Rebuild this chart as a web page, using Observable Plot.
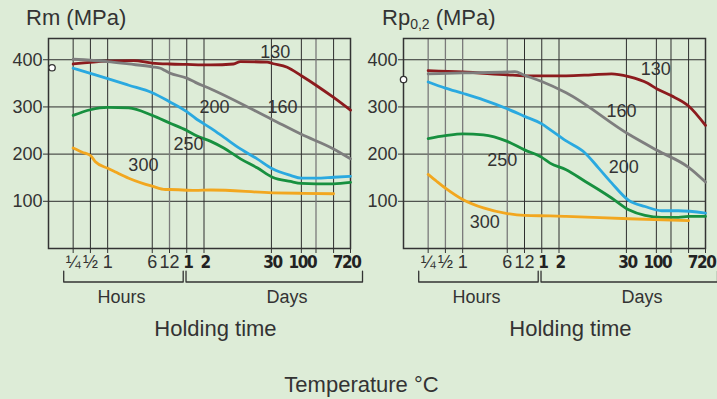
<!DOCTYPE html>
<html><head><meta charset="utf-8">
<script src="https://cdn.jsdelivr.net/npm/d3@7"></script>
<script src="https://cdn.jsdelivr.net/npm/@observablehq/plot@0.6"></script>
<style>
body{margin:0;background:#ddecd7;}
#wrap{position:relative;width:717px;height:399px;background:#ddecd7;font-family:"Liberation Sans",Arial,sans-serif;color:#333;overflow:hidden}
#wrap svg{position:absolute;top:0;}
#wrap g[font-weight="bold"] text{letter-spacing:-1.4px}
.ttl{position:absolute;top:5px;font-size:22px;line-height:26px;white-space:nowrap}
.ttl sub{font-size:14px;vertical-align:-4px;line-height:0}
#temp{position:absolute;left:3px;width:717px;top:372px;text-align:center;font-size:22px;line-height:26px}
</style></head><body>
<div id="wrap">
  <div class="ttl" style="left:26px">Rm (MPa)</div>
  <div class="ttl" style="left:382px">Rp<sub>0,2</sub> (MPa)</div>
  <div id="temp">Temperature °C</div>
</div>
<script>
// Temperatures (°C) of the curves
const temps = [130, 160, 200, 250, 300];
const lineColors = ["#8c1b1e", "#7e7e7e", "#2aa9e0", "#17903f", "#f2a71f"];

// x ticks, in hours
const hourTicks = [0.25, 0.5, 1, 6, 12];
const hourLabels = ["¼", "½", "1", "6", "12"];
const dayTicks = [24, 48, 720, 2400, 4320, 8760];
const dayLabels = ["1", "2", "30", "100", "", ""];
const lastTick = 17280;
const lastLabel = "720";
const yTicks = [100, 200, 300, 400];

// Rm panel: [hours, MPa]
const rm130 = [[0.25,391],[1,397],[2.82,398],[6,393],[12,391],[24,390],[63,389],[157,391],[208,396],[608,395],[750,392],[1360,384],[2400,366],[4320,346],[8760,320],[17280,293]];
const rm160 = [[0.25,401],[1,396],[2.33,391],[6,385],[8.35,382],[10,377],[12,372],[24,361],[34,352],[63,338],[750,273],[2400,242],[8760,211],[17280,190]];
const rm200 = [[0.25,382],[0.5,371],[1,360],[2.33,346],[6,330],[12,311],[24,290],[34,276],[63,255],[106,236],[208,211],[406,190],[750,169],[1552,155],[2400,149],[4320,149],[8760,151],[17280,153]];
const rm250 = [[0.25,282],[0.5,294],[1,299],[2.33,298],[6,282],[12,266],[24,250],[34,240],[63,227],[106,213],[208,190],[406,171],[750,151],[1552,142],[2400,138],[4320,137],[8760,137],[17280,140]];
const rm300 = [[0.25,213],[0.36,204],[0.5,197],[0.61,184],[1,170],[1.37,162],[2.33,149],[6,132],[10.2,125],[12,125],[34,123],[63,124],[750,118],[2400,117],[8760,116]];
const rmInitial = [0.107, 383];
const rmLabelPos = [[844,415],[1120,300],[73,299],[25.7,220],[4.2,176]];

// Rp0,2 panel: [hours, MPa]
const rp130 = [[0.25,377],[1,374],[6,368],[12,366],[24,366],[64,366],[176,368],[397,370],[790,364],[1700,350],[2470,338],[4320,324],[8760,302],[17280,261]];
const rp160 = [[0.25,370],[1,372],[6,374],[8.15,375],[12,367],[24,354],[64,330],[790,242],[2470,208],[8760,172],[17280,141]];
const rp200 = [[0.25,353],[0.5,340],[1,329],[2.3,315],[6,296],[12,280],[24,264],[33.5,252],[64,228],[138,202],[234,171],[397,139],[790,102],[1520,89],[2960,80],[5800,80],[17280,75]];
const rp250 = [[0.25,233],[0.5,239],[1,243],[2.3,241],[6,227],[12,209],[24,193],[33.5,181],[64,167],[138,142],[234,125],[397,107],[790,82],[1520,70],[2960,66],[5800,66],[8760,68],[17280,68]];
const rp300 = [[0.25,157],[0.355,142],[0.5,128],[1,104],[2.3,86],[6,74],[12,70],[33.5,69],[64,68],[790,63],[8760,59]];
const rpInitial = [0.093, 358];
const rpLabelPos = [[2350,380],[590,290],[650,173],[4.9,187],[2.44,55]];

// Annotations under the time axis
const hoursSpan = [0.171, 20.8];
const daysSpan = [23.3, 28000];
const groupLabels = ["Hours", "Days"];
const groupLabelPos = [[1.74, -103], [1353, -103]];
const xTitle = "Holding time";
const xTitlePos = [76, -170];
const bracketY = [-48, -71];

function panel(series, labelPos, initial, left, width, greyGrid) {
  const rows = series.flatMap((pts, i) => pts.map(([h, v]) => ({h, v, t: temps[i]})));
  const labs = labelPos.map(([h, v], i) => ({h, v, t: temps[i]}));
  const allTicks = hourTicks.concat(dayTicks, [lastTick]);
  const blackGrid = hourTicks.concat(dayTicks).filter(d => !greyGrid.includes(d));
  const bracket = (span) => [[span[0], bracketY[0]], [span[0], bracketY[1]], [span[1], bracketY[1]], [span[1], bracketY[0]]];
  const boldFont = "DejaVu Sans Condensed, Liberation Sans Narrow, Liberation Sans, sans-serif";
  const svg = Plot.plot({
    width, height: 345,
    marginLeft: 48, marginRight: width - 48 - 302, marginTop: 38, marginBottom: 97,
    style: {fontFamily: "Liberation Sans, Arial, sans-serif", color: "#333", background: "transparent", overflow: "visible"},
    x: {type: "log", domain: [0.0928, 17280]},
    y: {domain: [0, 445]},
    color: {type: "ordinal", domain: temps, range: lineColors},
    marks: [
      Plot.gridY(yTicks, {stroke: "#2e2e2e", strokeOpacity: 1, strokeWidth: 1}),
      Plot.gridX(blackGrid, {stroke: "#2e2e2e", strokeOpacity: 1, strokeWidth: 1}),
      Plot.gridX(greyGrid, {stroke: "#7a7a7a", strokeOpacity: 1, strokeWidth: 1.3}),
      Plot.axisY({ticks: yTicks, tickSize: 5, tickPadding: 1, fontSize: 18, label: null}),
      Plot.axisX({ticks: allTicks, tickSize: 5, tickFormat: () => "", label: null}),
      Plot.text(hourTicks, {x: d => d, frameAnchor: "bottom", dy: 19, fontSize: 18, fill: "#333",
        text: d => hourLabels[hourTicks.indexOf(d)]}),
      Plot.text(dayTicks, {x: d => d, frameAnchor: "bottom", dy: 19, dx: 1, fontSize: 17, fill: "#222", fontWeight: "bold",
        fontFamily: boldFont, text: d => dayLabels[dayTicks.indexOf(d)]}),
      Plot.text([lastTick], {x: d => d, frameAnchor: "bottom", dy: 19, dx: 10, textAnchor: "end", fontSize: 17, fill: "#222", fontWeight: "bold",
        fontFamily: boldFont, text: () => lastLabel}),
      Plot.frame({stroke: "#333", strokeWidth: 1.5}),
      Plot.line(rows, {x: "h", y: "v", z: "t", stroke: "t", strokeWidth: 2.8, curve: "monotone-x"}),
      Plot.text(labs, {x: "h", y: "v", text: d => String(d.t), fontSize: 18, fill: "#333"}),
      Plot.dot([initial], {x: d => d[0], y: d => d[1], r: 3.2, fill: "white", stroke: "#333", strokeWidth: 1.3}),
      Plot.line(bracket(hoursSpan), {x: d => d[0], y: d => d[1], stroke: "#333", strokeWidth: 1.3}),
      Plot.line(bracket(daysSpan), {x: d => d[0], y: d => d[1], stroke: "#333", strokeWidth: 1.3}),
      Plot.text(groupLabels, {x: (d, i) => groupLabelPos[i][0], y: (d, i) => groupLabelPos[i][1], text: d => d, fontSize: 18, fill: "#333"}),
      Plot.text([xTitle], {x: xTitlePos[0], y: xTitlePos[1], text: d => d, fontSize: 22, fill: "#333"})
    ]
  });
  svg.style.left = left + "px";
  return svg;
}

const wrap = document.getElementById("wrap");
wrap.appendChild(panel([rm130, rm160, rm200, rm250, rm300], rmLabelPos, rmInitial, 0, 358, [12, 4320]));
wrap.appendChild(panel([rp130, rp160, rp200, rp250, rp300], rpLabelPos, rpInitial, 355, 362, [0.25, 0.5, 1, 6]));
</script>
</body></html>
